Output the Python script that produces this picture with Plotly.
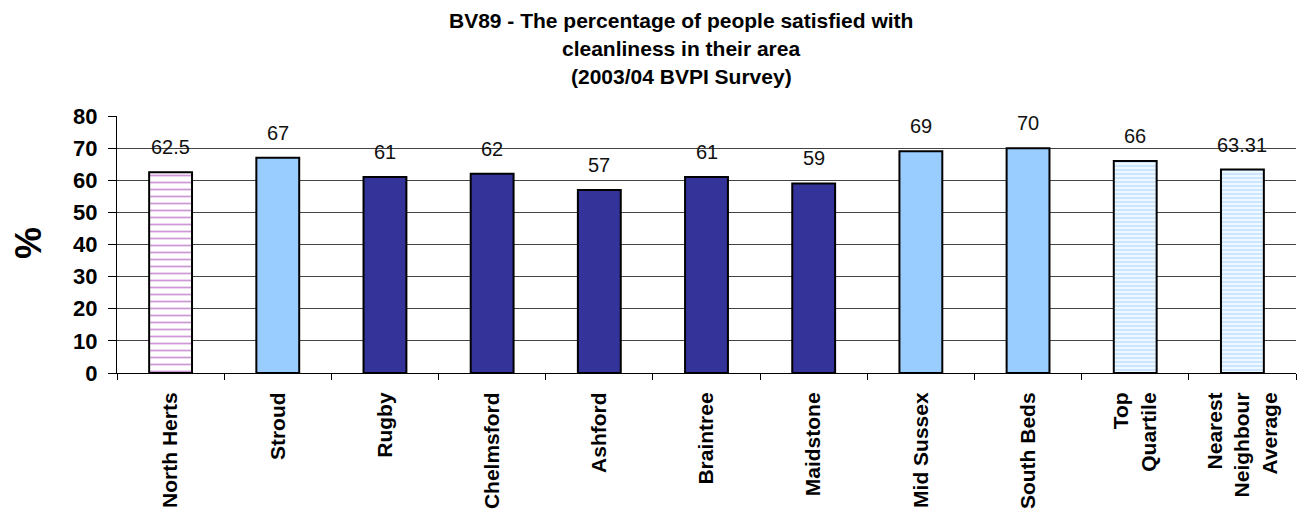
import plotly.graph_objects as go

categories = ["North Herts", "Stroud", "Rugby", "Chelmsford", "Ashford", "Braintree",
              "Maidstone", "Mid Sussex", "South Beds", "Top<br>Quartile",
              "Nearest<br>Neighbour<br>Average"]
values = [62.5, 67, 61, 62, 57, 61, 59, 69, 70, 66, 63.31]
value_labels = ["62.5", "67", "61", "62", "57", "61", "59", "69", "70", "66", "63.31"]
styles = ["dots", "light", "dark", "dark", "dark", "dark", "dark", "light", "light",
          "stripes", "stripes"]
y_ticks = [0, 10, 20, 30, 40, 50, 60, 70, 80]
title_lines = ["BV89 - The percentage of people satisfied with",
               "cleanliness in their area",
               "(2003/04 BVPI Survey)"]

LIGHT = "#99CCFF"
DARK = "#333399"
PURPLE = "#9933AA"
FONT = "Liberation Sans, Arial, sans-serif"

style_marker = {
    "light": dict(color=LIGHT),
    "dark": dict(color=DARK),
    "dots": dict(color="white", pattern=dict(shape="-", fgcolor=PURPLE, bgcolor="white",
                                             size=7, solidity=0.25, fillmode="overlay")),
    "stripes": dict(color="white", pattern=dict(shape="-", fgcolor=LIGHT, bgcolor="white",
                                                size=4, solidity=0.65, fillmode="overlay")),
}

fig = go.Figure()
for st, mk in style_marker.items():
    xs = [c for c, s in zip(categories, styles) if s == st]
    ys = [v for v, s in zip(values, styles) if s == st]
    m = dict(mk)
    m["line"] = dict(color="black", width=2)
    fig.add_trace(go.Bar(x=xs, y=ys, width=0.4, marker=m, showlegend=False,
                         hoverinfo="x+y"))

annotations = []
for c, v, t in zip(categories, values, value_labels):
    annotations.append(dict(x=c, y=v, xref="x", yref="y", text=t, showarrow=False,
                            yanchor="middle", yshift=25,
                            font=dict(family=FONT, size=20, color="#111111")))

L, T, W, H = 117, 116, 1179, 257
for line, py in zip(title_lines, [20, 48, 76]):
    annotations.append(dict(x=(681 - L) / W, y=(T + H - py) / H, xref="paper", yref="paper",
                            text=line, showarrow=False,
                            xanchor="center", yanchor="middle",
                            font=dict(family=FONT, size=21, color="black", weight="bold")))
annotations.append(dict(x=(28 - L) / W, y=(T + H - 243) / H, xref="paper", yref="paper",
                        text="%", showarrow=False, textangle=-90,
                        xanchor="center", yanchor="middle",
                        font=dict(family=FONT, size=36, color="black", weight="bold")))

fig.update_layout(
    width=1304, height=521,
    margin=dict(l=L, r=1304 - L - W, t=T, b=521 - T - H, pad=0),
    paper_bgcolor="white", plot_bgcolor="white",
    annotations=annotations,
    barmode="overlay",
)
fig.update_xaxes(
    type="category", categoryorder="array", categoryarray=categories,
    tickangle=-90, tickson="boundaries",
    ticks="outside", ticklen=6, tickcolor="black", tickwidth=1,
    showline=True, linecolor="black", linewidth=1,
    showgrid=False, ticklabelstandoff=10,
    tickfont=dict(family=FONT, size=21, color="black", weight="bold"),
)
fig.update_yaxes(
    range=[0, 80], tickvals=y_ticks, ticks="outside", ticklen=8,
    tickcolor="black", tickwidth=1,
    showline=True, linecolor="black", linewidth=1,
    showgrid=True, gridcolor="#444444", gridwidth=1,
    zeroline=False, ticklabelstandoff=6,
    tickfont=dict(family=FONT, size=22, color="black", weight="bold"),
)

fig.write_html("out.html")
